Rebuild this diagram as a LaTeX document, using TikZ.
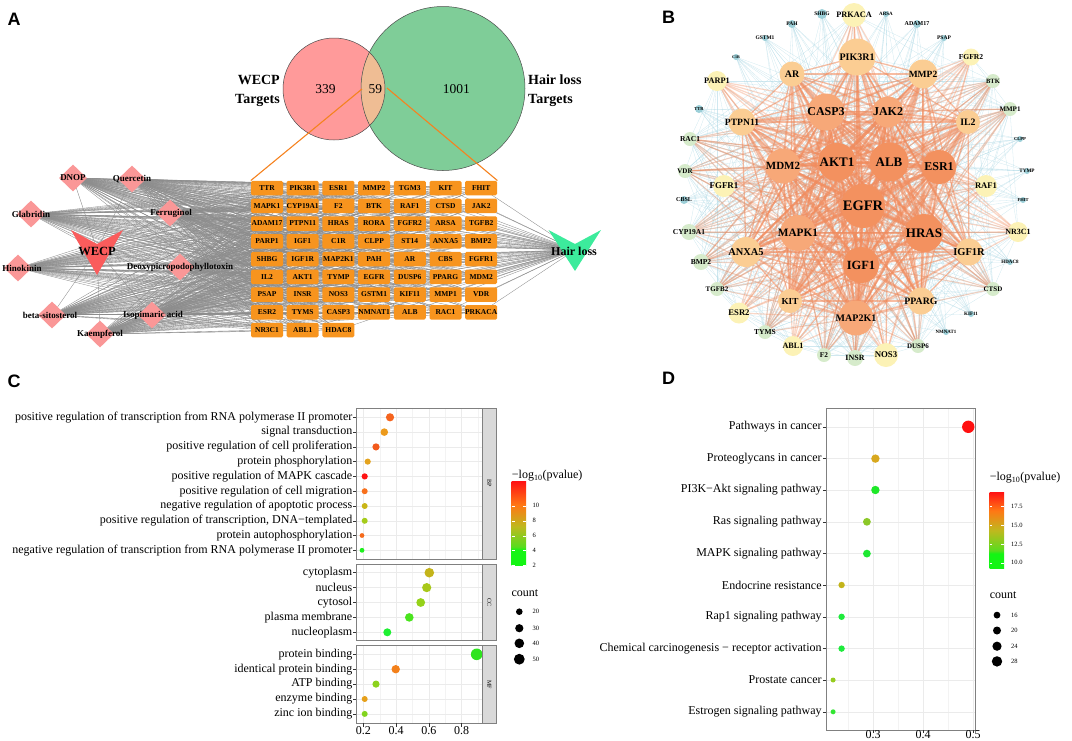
\documentclass[tikz,border=0pt]{standalone}
\usepackage{fontspec}
\setmainfont{Liberation Serif}
\newfontfamily\panelfont{Liberation Sans}
\usetikzlibrary{shapes.geometric}

\pgfdeclarelayer{edges}
\pgfsetlayers{edges,main}

\definecolor{vennpink}{HTML}{FF9A9A}
\definecolor{venngreen}{HTML}{7FCD98}
\definecolor{vennmix}{HTML}{EFBD94}
\definecolor{zoomorange}{HTML}{F5821F}
\definecolor{geneorange}{HTML}{F7941E}
\definecolor{drugpink}{HTML}{FA9797}
\definecolor{wecpred}{HTML}{FA5C5C}
\definecolor{hairgreen}{HTML}{3CEB9C}
\definecolor{netgray}{HTML}{8C8C8C}
\definecolor{hubcol}{HTML}{F3915F}
\definecolor{bigcol}{HTML}{F7A878}
\definecolor{midcol}{HTML}{FBCD93}
\definecolor{outcol}{HTML}{FCF2B6}
\definecolor{smallcol}{HTML}{D6EBCB}
\definecolor{tinycol}{HTML}{9CCFD8}
\definecolor{ppiorange}{HTML}{F28C5E}
\definecolor{ppicyan}{HTML}{A9D6E3}
\definecolor{gridcol}{HTML}{EBEBEB}
\definecolor{framecol}{HTML}{808080}
\definecolor{stripcol}{HTML}{D9D9D9}
\definecolor{gradgreen}{HTML}{14F514}
\definecolor{gradlime}{HTML}{5ADC1E}
\definecolor{gradolive}{HTML}{BEB91E}
\definecolor{gradorange}{HTML}{FF7814}
\definecolor{gradred}{HTML}{FF1414}

\pgfdeclareverticalshading{pvalC}{100bp}{color(0bp)=(gradgreen); color(34bp)=(gradgreen);
  color(36bp)=(gradlime); color(48bp)=(gradolive); color(61bp)=(gradorange);
  color(75bp)=(gradred); color(100bp)=(gradred)}
\pgfdeclareverticalshading{pvalD}{100bp}{color(0bp)=(gradgreen); color(35bp)=(gradgreen);
  color(37bp)=(gradlime); color(50bp)=(gradolive); color(63bp)=(gradorange);
  color(75bp)=(gradred); color(100bp)=(gradred)}

\tikzset{
  panel/.style={inner sep=0, font=\panelfont\bfseries\fontsize{18}{18}\selectfont},
  vennline/.style={draw=black!70, line width=.5pt},
  vennnum/.style={inner sep=0, font=\fontsize{13.5}{14}\selectfont},
  venntitle/.style={inner sep=0, font=\bfseries\fontsize{14}{19}\selectfont},
  genebox/.style={rectangle, rounded corners=1.5pt, fill=geneorange, minimum width=32pt,
    minimum height=14.5pt, inner sep=0, font=\bfseries\fontsize{7.5}{8}\selectfont},
  drug/.style={diamond, fill=drugpink, minimum width=28pt, minimum height=27pt, inner sep=0},
  druglabel/.style={inner sep=0, font=\bfseries\fontsize{9}{10}\selectfont},
  vlabel/.style={inner sep=0, font=\bfseries\fontsize{12.5}{13}\selectfont},
  aedge/.style={draw=netgray, line width=.35pt},
  zoomline/.style={draw=zoomorange, line width=1.1pt},
  ppinode/.style={circle, inner sep=0, draw=none},
  ppilabel/.style={inner sep=0},
  ppithick/.style={draw=ppiorange, line width=2.2pt, opacity=.35},
  ppithin/.style={draw=ppiorange, line width=1.2pt, opacity=.35},
  ppifaint/.style={draw=ppicyan, line width=.3pt, opacity=.55},
  term/.style={anchor=east, inner sep=0, font=\fontsize{12}{13}\selectfont},
  ticklab/.style={inner sep=0, font=\fontsize{12}{13}\selectfont},
  legtitle/.style={anchor=west, inner sep=0, font=\fontsize{12}{13}\selectfont},
  legtick/.style={anchor=west, inner sep=0, font=\fontsize{6.5}{7}\selectfont},
  gridmajor/.style={draw=gridcol, line width=.5pt},
  gridminor/.style={draw=gridcol!60, line width=.3pt},
  panelframe/.style={draw=framecol, line width=.6pt},
  stripbox/.style={fill=stripcol, draw=framecol, line width=.6pt},
  striplab/.style={inner sep=0, rotate=-90, font=\fontsize{6}{6}\selectfont},
  axtick/.style={draw=black!80, line width=.5pt},
}

\def\genes{TTR,PIK3R1,ESR1,MMP2,TGM3,KIT,FHIT,MAPK1,CYP19A1,F2,BTK,RAF1,CTSD,JAK2,
  ADAM17,PTPN11,HRAS,RORA,FGFR2,ARSA,TGFB2,PARP1,IGF1,C1R,CLPP,ST14,ANXA5,BMP2,
  SHBG,IGF1R,MAP2K1,PAH,AR,CBS,FGFR1,IL2,AKT1,TYMP,EGFR,DUSP6,PPARG,MDM2,
  PSAP,INSR,NOS3,GSTM1,KIF11,MMP1,VDR,ESR2,TYMS,CASP3,NMNAT1,ALB,RAC1,PRKACA,
  NR3C1,ABL1,HDAC8}
\def\bhubs{EGFR,AKT1,ALB,ESR1,HRAS,IGF1,MAPK1,CASP3,JAK2,MDM2,MAP2K1}
\def\bmid{PIK3R1,MMP2,AR,PTPN11,IL2,ANXA5,IGF1R,PPARG,KIT}
\def\bouter{PRKACA,PARP1,FGFR2,FGFR1,RAF1,NR3C1,ESR2,ABL1,NOS3}
\def\bsmall{BTK,MMP1,RAC1,VDR,CYP19A1,BMP2,TGFB2,CTSD,TYMS,DUSP6,F2,INSR}
\def\btiny{SHBG,ARSA,PAH,ADAM17,GSTM1,PSAP,C1R,TTR,CLPP,TYMP,CBSL,FHIT,HDAC8,KIF11,NMNAT1}
\edef\bcore{\bhubs,\bmid}
\edef\brim{\bouter,\bsmall}

\begin{document}
\begin{tikzpicture}[x=1pt,y=-1pt]
  \useasboundingbox (0,0) rectangle (1072,740);

  \node[panel] (lab-A) at (14,19) {A};
  \node[panel] (lab-B) at (668.5,17) {B};
  \node[panel] (lab-C) at (14,381) {C};
  \node[panel] (lab-D) at (668.5,378.5) {D};

  % A: venn
  \fill[vennpink] (334,89) circle (51pt);
  \fill[venngreen] (443,88.5) circle (82pt);
  \begin{scope}
    \clip (334,89) circle (51pt);
    \fill[vennmix] (443,88.5) circle (82pt);
  \end{scope}
  \draw[vennline] (334,89) circle (51pt);
  \draw[vennline] (443,88.5) circle (82pt);
  \node[vennnum] (n339) at (325.4,88.8) {339};
  \node[vennnum] (n59) at (375.3,88.8) {59};
  \node[vennnum] (n1001) at (456.3,88.8) {1001};
  \node[venntitle, anchor=east, align=right] (wecp-set) at (280,91) {WECP\\Targets};
  \node[venntitle, anchor=west, align=left] (hair-set) at (528,91) {Hair loss\\Targets};
  \coordinate (zoomL) at (362,89);
  \coordinate (zoomR) at (387,88);

  % A: target grid
  \foreach \g [count=\i from 0, evaluate=\i as \gx using {267+35.7*mod(\i,7)},
      evaluate=\i as \gy using {188+17.75*floor(\i/7)}] in \genes
    \node[genebox] (a-\g) at (\gx,\gy) {\g};
  \draw[zoomline] (zoomL) -- (a-TTR.north west);
  \draw[zoomline] (zoomR) -- (a-FHIT.north east);

  % A: compounds
  \coordinate (wecp) at (97,250);
  \fill[wecpred] ([shift={(-26,-20)}]wecp) -- ([shift={(0,-6)}]wecp)
    -- ([shift={(26,-20)}]wecp) -- ([shift={(0,25)}]wecp) -- cycle;
  \foreach \id/\lab/\x/\y/\lx in {dnop/DNOP/73/178/73, quer/Quercetin/132/179/132,
      glab/Glabridin/31/214/31, ferr/Ferruginol/170/213/171, hino/Hinokinin/18/268/22,
      deox/Deoxypicropodophyllotoxin/180/267/180, beta/beta-sitosterol/52/315/50,
      isop/Isopimaric acid/152/315/153, kaem/Kaempferol/100/334/100}{
    \node[drug] (d-\id) at (\x,\y) {};
    \node[druglabel] (dl-\id) at (\lx,\y) {\lab};
  }
  \node[vlabel] (wecp-lab) at (97,251) {WECP};
  \coordinate (hair) at (575,250);
  \fill[hairgreen] ([shift={(-26.5,-20)}]hair) -- ([shift={(0,-6)}]hair)
    -- ([shift={(26,-20)}]hair) -- ([shift={(0,21)}]hair) -- cycle;
  \node[vlabel, font=\bfseries\fontsize{12}{13}\selectfont] (hair-lab) at (574,251) {Hair loss};

  \begin{pgfonlayer}{edges}
    \foreach \id in {dnop,quer,glab,ferr,hino,deox,beta,isop,kaem}{
      \draw[aedge] (wecp) -- (d-\id.center);
      \foreach \g in \genes
        \draw[aedge] (d-\id.center) -- (a-\g.center);
    }
    \foreach \g in \genes
      \draw[aedge] (a-\g.center) -- (hair);
  \end{pgfonlayer}

  % B: PPI network
  \foreach \n/\x/\y/\r/\col/\f in {
      EGFR/863/206/22/hubcol/14.5, AKT1/837/162/19/hubcol/13, ALB/889/162/19.5/hubcol/13,
      ESR1/939/167/17/hubcol/12, HRAS/924/233/19/hubcol/13, IGF1/861/265/18/hubcol/12.5,
      MAPK1/798/233/18/bigcol/11.3, CASP3/826/112/18.5/bigcol/12, JAK2/888/112/15.5/bigcol/12,
      MDM2/783/166/17.5/bigcol/11, MAP2K1/856/318/17.5/bigcol/10,
      PIK3R1/857/57/18.5/midcol/10, MMP2/923/74/14.5/midcol/9.5, AR/792/74/12.5/midcol/10,
      PTPN11/742/122/13.5/midcol/9.6, IL2/968/122/12/midcol/9.8, ANXA5/746/252/15/midcol/10.4,
      IGF1R/969/252/13.5/midcol/10.5, PPARG/921/301/13.5/midcol/9.8, KIT/790/301/12/midcol/9.2,
      PRKACA/854/15/12/outcol/8.3, PARP1/717/81/10/outcol/8.3, FGFR2/971/57/8.5/outcol/7.6,
      FGFR1/724/186/11/outcol/8.9, RAF1/986/186/11/outcol/8.6, NR3C1/1018/232/10/outcol/8,
      ESR2/739/313/10.5/outcol/8.6, ABL1/793/346/10/outcol/8.2, NOS3/886/355/12/outcol/8.8,
      BTK/993/81/7/smallcol/6.5, MMP1/1010/109/7/smallcol/7, RAC1/690/139/7/smallcol/7.5,
      VDR/685/171/7/smallcol/7, CYP19A1/689/232/8/smallcol/7.5, BMP2/701/262/8/smallcol/7.5,
      TGFB2/717/289/7/smallcol/7, CTSD/993/289/7/smallcol/7, TYMS/765/332/7/smallcol/7.5,
      DUSP6/918/346/7/smallcol/7, F2/824/355/7/smallcol/7.3, INSR/855/358/8/smallcol/8,
      SHBG/822/14/5/tinycol/5.5, ARSA/886/14/3/tinycol/5, PAH/792/24/4/tinycol/5.5,
      ADAM17/917/24/4/tinycol/6, GSTM1/765/38/3/tinycol/5.5, PSAP/944/38/3/tinycol/5.5,
      C1R/736/57/3/tinycol/4, TTR/699/109/4/tinycol/4.5, CLPP/1020/139/3/tinycol/4.6,
      TYMP/1027/171/3/tinycol/5.2, CBSL/684/200/4/tinycol/6, FHIT/1023/200/3/tinycol/4.5,
      HDAC8/1010/262/3/tinycol/5, KIF11/971/314/3/tinycol/5, NMNAT1/946/332/3/tinycol/4.9}{
    \node[ppinode, fill=\col, minimum size={2*\r*1pt}] (b-\n) at (\x,\y) {};
    \node[ppilabel, font={\bfseries\fontsize{\f}{\f}\selectfont}] (bl-\n) at (\x,\y) {\n};
  }
  \begin{pgfonlayer}{edges}
    \foreach \src in \bsmall {\foreach \dst in \bcore {\draw[ppifaint] (b-\src.center) -- (b-\dst.center);}}
    \foreach \src in \bouter {\foreach \dst in \bsmall {\draw[ppifaint] (b-\src.center) -- (b-\dst.center);}}
    \foreach \src in \btiny {\foreach \dst in \bhubs {\draw[ppifaint] (b-\src.center) -- (b-\dst.center);}}
    \foreach \src in \bhubs {\foreach \dst in \brim {\draw[ppithin] (b-\src.center) -- (b-\dst.center);}}
    \foreach \src in \bmid {\foreach \dst in \bcore {\draw[ppithin] (b-\src.center) -- (b-\dst.center);}}
    \foreach \src in \bhubs {\foreach \dst in \bcore {\draw[ppithick] (b-\src.center) -- (b-\dst.center);}}
  \end{pgfonlayer}

  % C: GO dot plot
  \foreach \t/\b in {408.3/559, 564.3/640, 645.7/723.3}{
    \foreach \gx in {379.7,412.5,445.3,478.1} \draw[gridminor] (\gx,\t) -- (\gx,\b);
    \foreach \gx in {363.3,396.1,428.9,461.7} \draw[gridmajor] (\gx,\t) -- (\gx,\b);
  }
  \foreach \y/\term/\x/\r/\h [count=\i] in {
      417.3/positive regulation of transcription from RNA polymerase II promoter/390/4.1/F5641E,
      432.1/signal transduction/384.3/3.8/EC9A1C,
      446.9/positive regulation of cell proliferation/376/3.6/F25A1C,
      461.6/protein phosphorylation/367.7/3.1/E4A31E,
      476.4/positive regulation of MAPK cascade/364.7/3.1/FF1414,
      491.2/positive regulation of cell migration/364.7/3/F8701C,
      506/negative regulation of apoptotic process/364.7/3/C9B517,
      520.8/{positive regulation of transcription, DNA−templated}/364.7/3/A5CC1A,
      535.5/protein autophosphorylation/362/2.4/F56A1C,
      550.3/negative regulation of transcription from RNA polymerase II promoter/362/2.4/1EF01E,
      572.7/cytoplasm/429.3/4.8/C4B41A,
      587.6/nucleus/426.7/4.6/A8C81A,
      602.5/cytosol/420.7/4.4/96D21A,
      617.4/plasma membrane/409.3/4.3/4AE41E,
      632.3/nucleoplasm/387.3/4/1EF032,
      654.3/protein binding/476.7/5.8/2EE41E,
      669.2/identical protein binding/395.7/4.2/F3801A,
      684.1/ATP binding/376/3.6/8CD21E,
      699/enzyme binding/364.7/3/E6A01A,
      713.9/zinc ion binding/364.7/3/82D41E}{
    \draw[gridmajor] (356.7,\y) -- (482.3,\y);
    \draw[axtick] (353.2,\y) -- (356.7,\y);
    \node[term] (go-\i) at (352.5,\y) {\term};
    \definecolor{dotfill}{HTML}{\h}
    \fill[dotfill] (\x,\y) circle[radius=\r pt];
  }
  \foreach \t/\b/\s in {408.3/559/BP, 564.3/640/CC, 645.7/723.3/MF}{
    \draw[panelframe] (356.7,\t) rectangle (482.3,\b);
    \path[stripbox] (482.3,\t) rectangle (496.5,\b);
    \node[striplab] (strip-\s) at (489.4,{(\t+\b)/2}) {\s};
  }
  \foreach \gx/\v in {363.3/0.2, 396.1/0.4, 428.9/0.6, 461.7/0.8}{
    \draw[axtick] (\gx,723.3) -- (\gx,726.8);
    \node[ticklab] (cx-\v) at (\gx,731) {\v};
  }
  % C: legend
  \node[legtitle] (c-pval) at (511.7,476) {−log\textsubscript{10}(pvalue)};
  \shade[shading=pvalC] (511.7,481.7) rectangle (526,565);
  \foreach \ly/\v in {505.7/10, 520.7/8, 535.7/6, 550.3/4, 565/2}{
    \draw[white, line width=.4pt] (511.7,\ly) -- (514.5,\ly) (523.2,\ly) -- (526,\ly);
    \node[legtick] (cbar-\v) at (532.5,\ly) {\v};
  }
  \node[legtitle] (c-count) at (511.4,592.7) {count};
  \foreach \ly/\r/\v in {611.7/3.3/20, 628.2/4.1/30, 643.3/4.8/40, 659.2/5.4/50}{
    \fill (519.3,\ly) circle[radius=\r pt];
    \node[legtick] (csize-\v) at (532.5,\ly) {\v};
  }

  % D: KEGG dot plot
  \foreach \gx in {848,898,948} \draw[gridminor] (\gx,407.9) -- (\gx,730);
  \foreach \gx in {873,923,973} \draw[gridmajor] (\gx,407.9) -- (\gx,730);
  \foreach \y/\term/\x/\r/\h [count=\i] in {
      426.8/Pathways in cancer/968.3/6.2/FF1010,
      458.6/Proteoglycans in cancer/875.4/4.2/D8A81E,
      490/PI3K−Akt signaling pathway/875.4/4.2/1EE828,
      521.8/Ras signaling pathway/866.9/3.9/8CC828,
      553.6/MAPK signaling pathway/866.9/3.9/1EE832,
      585/Endocrine resistance/841.6/3.2/C3B41A,
      616.8/Rap1 signaling pathway/841.6/3.2/1EEB3C,
      648.6/Chemical carcinogenesis − receptor activation/841.6/3.2/1EEB3C,
      680/Prostate cancer/833.1/2.5/96CC1E,
      711.8/Estrogen signaling pathway/833.1/2.5/32E632}{
    \draw[gridmajor] (826.3,\y) -- (975.1,\y);
    \draw[axtick] (822.8,\y) -- (826.3,\y);
    \node[term] (kegg-\i) at (821.8,\y) {\term};
    \definecolor{dotfill}{HTML}{\h}
    \fill[dotfill] (\x,\y) circle[radius=\r pt];
  }
  \draw[panelframe] (826.3,407.9) rectangle (975.1,730);
  \foreach \gx/\v in {873/0.3, 923/0.4, 973/0.5}{
    \draw[axtick] (\gx,730) -- (\gx,733);
    \node[ticklab] (dx-\v) at (\gx,734.5) {\v};
  }
  % D: legend
  \node[legtitle] (d-pval) at (989.6,477.5) {−log\textsubscript{10}(pvalue)};
  \shade[shading=pvalD] (989.6,492.4) rectangle (1004.2,568.8);
  \foreach \ly/\v in {506.2/17.5, 525.2/15.0, 544/12.5, 562.7/10.0}{
    \draw[white, line width=.4pt] (989.6,\ly) -- (992.4,\ly) (1001.4,\ly) -- (1004.2,\ly);
    \node[legtick] (dbar-\v) at (1011,\ly) {\v};
  }
  \node[legtitle] (d-count) at (989.6,594.8) {count};
  \foreach \ly/\r/\v in {615.1/3.4/16, 630.5/4/20, 646.2/4.6/24, 661.4/5.2/28}{
    \fill (997,\ly) circle[radius=\r pt];
    \node[legtick] (dsize-\v) at (1011,\ly) {\v};
  }
\end{tikzpicture}
\end{document}
